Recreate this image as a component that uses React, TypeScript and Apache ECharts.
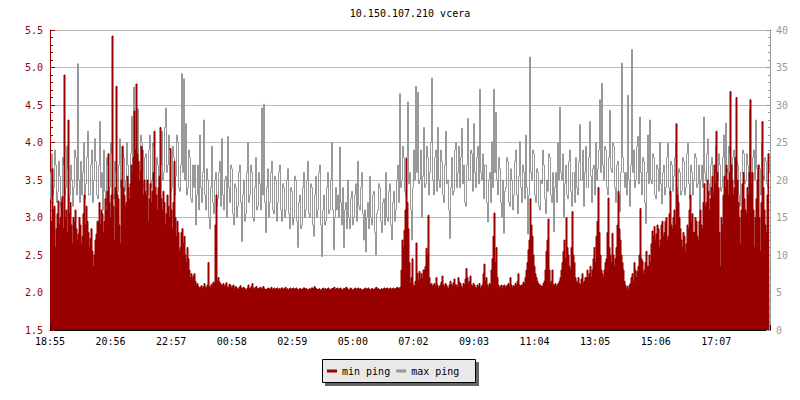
import React, { useEffect, useRef } from 'react';
import * as echarts from 'echarts';

const chartTitle = '10.150.107.210 vcera';
const tickLabels = ['18:55', '20:56', '22:57', '00:58', '02:59', '05:00', '07:02', '09:03', '11:04', '13:05', '15:06', '17:07'];
const legendNames = ['min ping', 'max ping'];
const minutesPerSample = 2;
const sampleOffsetMinutes = 1;
const minutesPerTick = 121.14;
const spanMinutes = 1440;

// min ping (left axis), one value every 2 minutes
const minPing = [
  2.72, 2.95, 3.65, 3.1, 3.15, 2.6, 2.85, 3.05, 3.22, 2.9, 3.0, 3.2, 3.28, 2.85, 4.9, 3.0, 3.1, 2.8, 4.3, 3.05, 3.2, 2.9, 2.65, 3.0,
  2.95, 3.1, 2.85, 2.7, 2.78, 3.0, 2.9, 2.65, 2.75, 3.05, 3.3, 2.9, 3.15, 2.95, 2.8, 2.6, 2.72, 2.85, 2.55, 2.35, 2.5, 2.7, 2.78, 2.95,
  2.95, 3.2, 2.9, 3.1, 3.05, 2.8, 2.95, 3.25, 3.1, 3.35, 3.85, 3.2, 3.0, 3.3, 5.42, 3.15, 2.7, 3.4, 4.75, 3.3, 3.25, 2.9, 2.65, 3.5,
  3.95, 3.4, 3.3, 3.15, 3.2, 3.55, 3.4, 3.25, 3.45, 3.7, 3.6, 3.8, 4.42, 3.9, 4.78, 3.85, 3.75, 3.5, 3.62, 3.95, 3.9, 3.3, 3.5, 3.35,
  3.3, 3.5, 2.95, 3.25, 3.45, 3.2, 3.35, 3.6, 4.15, 3.4, 3.3, 3.1, 3.4, 3.55, 4.2, 3.25, 3.1, 3.35, 3.2, 2.9, 3.05, 3.3, 3.15, 3.0,
  3.92, 3.1, 2.85, 3.2, 3.75, 3.0, 2.75, 2.95, 2.8, 2.55, 2.6, 2.8, 2.85, 2.65, 2.75, 2.5, 2.4, 2.6, 2.45, 2.3, 2.2, 2.25, 2.18, 2.22,
  2.25, 2.15, 2.1, 2.12, 2.08, 2.06, 2.07, 2.09, 2.05, 2.08, 2.12, 2.07, 2.06, 2.1, 2.4, 2.08, 2.07, 2.11, 2.1, 2.14, 2.12, 2.9, 3.3, 2.15,
  2.2, 2.14, 2.12, 2.09, 2.1, 2.12, 2.08, 2.1, 2.13, 2.07, 2.07, 2.11, 2.1, 2.06, 2.08, 2.1, 2.05, 2.08, 2.07, 2.05, 2.04, 2.07, 2.09, 2.06,
  2.05, 2.07, 2.06, 2.04, 2.03, 2.06, 2.1, 2.05, 2.06, 2.08, 2.12, 2.06, 2.04, 2.07, 2.08, 2.05, 2.05, 2.06, 2.07, 2.04, 2.06, 2.08, 2.05, 2.04,
  2.04, 2.05, 2.06, 2.04, 2.05, 2.07, 2.04, 2.05, 2.06, 2.04, 2.05, 2.06, 2.03, 2.05, 2.04, 2.06, 2.06, 2.04, 2.05, 2.07, 2.04, 2.05, 2.03, 2.05,
  2.06, 2.04, 2.05, 2.06, 2.04, 2.05, 2.06, 2.04, 2.03, 2.05, 2.05, 2.04, 2.04, 2.06, 2.06, 2.05, 2.05, 2.04, 2.03, 2.05, 2.04, 2.06, 2.06, 2.05,
  2.08, 2.06, 2.05, 2.04, 2.04, 2.05, 2.02, 2.04, 2.05, 2.06, 2.03, 2.05, 2.04, 2.05, 2.06, 2.04, 2.03, 2.05, 2.05, 2.06, 2.07, 2.04, 2.05, 2.06,
  2.04, 2.05, 2.06, 2.04, 2.03, 2.05, 2.05, 2.06, 2.07, 2.05, 2.04, 2.03, 2.06, 2.05, 2.03, 2.04, 2.05, 2.06, 2.04, 2.05, 2.06, 2.04, 2.05, 2.04,
  2.03, 2.04, 2.05, 2.06, 2.04, 2.05, 2.06, 2.04, 2.03, 2.05, 2.05, 2.04, 2.04, 2.06, 2.07, 2.05, 2.05, 2.04, 2.03, 2.05, 2.04, 2.05, 2.06, 2.05,
  2.05, 2.06, 2.04, 2.05, 2.06, 2.04, 2.05, 2.06, 2.04, 2.05, 2.06, 2.07, 2.05, 2.06, 2.07, 2.3, 2.7, 2.6, 2.83, 3.1, 3.79, 3.2, 2.85, 2.4,
  2.12, 2.2, 2.45, 2.1, 2.08, 2.15, 2.66, 2.25, 2.15, 2.28, 2.18, 2.25, 2.18, 2.3, 2.3, 2.35, 2.59, 2.5, 3.03, 2.2, 2.1, 2.12, 2.08, 2.1,
  2.12, 2.09, 2.2, 2.1, 2.06, 2.08, 2.1, 2.14, 2.22, 2.1, 2.08, 2.12, 2.1, 2.07, 2.05, 2.1, 2.15, 2.11, 2.08, 2.13, 2.18, 2.1, 2.1, 2.07,
  2.2, 2.14, 2.12, 2.08, 2.06, 2.12, 2.1, 2.18, 2.32, 2.2, 2.12, 2.15, 2.22, 2.1, 2.08, 2.12, 2.1, 2.07, 2.06, 2.1, 2.08, 2.12, 2.05, 2.08,
  2.1, 2.25, 2.38, 2.15, 2.2, 2.1, 2.07, 2.12, 2.1, 2.3, 2.45, 2.75, 3.06, 2.4, 2.6, 2.2, 2.1, 2.06, 2.08, 2.1, 2.05, 2.09, 2.1, 2.07,
  2.08, 2.1, 2.12, 2.08, 2.2, 2.1, 2.06, 2.09, 2.08, 2.12, 2.1, 2.15, 2.25, 2.1, 2.08, 2.1, 2.1, 2.14, 2.12, 2.2, 2.3, 2.4, 2.57, 2.7,
  3.25, 2.9, 2.75, 2.5, 2.35, 2.25, 2.2, 2.15, 2.12, 2.1, 2.1, 2.08, 2.08, 2.12, 2.15, 2.3, 2.55, 2.7, 2.98, 2.3, 2.12, 2.15, 2.3, 2.1,
  2.1, 2.12, 2.08, 2.1, 2.12, 2.15, 2.2, 2.3, 2.4, 2.55, 2.7, 2.45, 3.0, 2.6, 2.5, 2.35, 2.3, 2.6, 3.08, 2.5, 2.4, 2.2, 2.15, 2.12,
  2.2, 2.12, 2.1, 2.18, 2.25, 2.12, 2.15, 2.2, 2.2, 2.3, 2.2, 2.25, 2.35, 2.2, 2.3, 2.45, 2.6, 2.4, 2.75, 2.95, 3.4, 2.8, 2.5, 2.3,
  2.25, 2.2, 2.3, 2.4, 2.45, 2.8, 3.26, 2.6, 2.5, 2.4, 2.79, 2.5, 2.35, 2.45, 2.6, 2.9, 3.35, 2.85, 2.7, 2.5, 2.4, 2.3, 2.15, 2.1,
  2.05, 2.08, 2.03, 2.1, 2.12, 2.2, 2.25, 2.15, 2.4, 2.3, 2.2, 2.28, 2.35, 2.5, 3.12, 2.45, 2.42, 2.25, 2.3, 2.4, 2.55, 2.35, 2.35, 2.5,
  2.4, 2.65, 2.82, 2.75, 2.88, 2.7, 2.78, 2.9, 2.85, 2.6, 2.7, 2.9, 2.95, 2.75, 2.8, 2.95, 3.0, 2.7, 2.75, 3.05, 3.35, 2.9, 2.85, 3.0,
  3.1, 2.9, 4.25, 3.3, 3.2, 3.0, 2.85, 2.7, 2.6, 2.8, 2.75, 2.55, 2.65, 2.9, 2.85, 3.1, 3.3, 2.95, 3.05, 2.8, 2.8, 3.0, 2.95, 2.75,
  2.7, 2.95, 3.1, 2.9, 2.85, 3.2, 3.45, 3.15, 3.2, 3.5, 3.35, 3.1, 3.25, 3.4, 3.55, 3.3, 3.7, 3.45, 4.15, 3.6, 3.4, 2.8, 2.35, 3.0,
  2.9, 3.3, 3.55, 3.4, 3.7, 3.5, 3.3, 3.6, 4.68, 3.7, 3.5, 3.3, 3.4, 3.8, 4.6, 3.5, 3.2, 3.0, 2.65, 3.1, 3.45, 3.6, 3.25, 3.1,
  3.05, 3.4, 3.3, 3.6, 4.57, 3.45, 3.6, 3.1, 2.6, 3.0, 3.25, 3.5, 3.7, 3.0, 2.55, 3.2, 4.28, 3.4, 3.1, 2.9, 2.8, 3.3, 3.85, 3.6,
];

// max ping (right axis), one value every 2 minutes
const maxPing = [
  21, 17.5, 23.5, 18, 19, 24, 22, 17, 18.5, 22.5, 20.5, 16.5, 17.5, 23, 22, 18, 19, 24.5, 21.5, 17, 18, 22, 20, 16.5,
  19, 24, 23, 18, 35.5, 20, 17, 22.5, 18, 21, 25, 17.5, 19.5, 23, 26.5, 18, 18, 22, 24, 17, 20, 25.5, 22.5, 18,
  17.5, 22, 27.8, 19, 21, 16, 24, 18.5, 16.5, 23, 22, 17, 19, 25, 23.5, 18, 17.5, 22.5, 21, 16, 18.5, 22, 25.5, 19,
  19, 24.5, 23, 18.5, 20, 25, 22, 18, 18, 23.5, 28.5, 21, 32.4, 22, 24, 20, 29.5, 22.5, 21, 26, 25, 19, 19.5, 23,
  23.5, 18.5, 18, 24, 26, 19, 20, 25, 24.5, 18, 19, 23, 22, 16.5, 17.5, 22, 26.5, 20, 21, 27, 29.6, 21, 22, 26,
  24, 18.5, 19, 24.5, 23, 18, 20.5, 26, 25, 19, 18.5, 22, 34.2, 21, 33.5, 20, 27.5, 18, 19, 24, 23, 17.5, 17, 22,
  19, 22, 14, 18, 22, 16, 26, 19, 17, 21, 28, 18, 16, 21.5, 20, 15, 13.5, 19, 24.5, 17, 15.5, 20, 21, 16.5,
  17.5, 21, 22.5, 16.5, 25.5, 18, 16, 20, 20.5, 15, 25.8, 19, 17, 22, 21.5, 15.5, 14, 19.5, 19, 15, 16.5, 21, 22, 17,
  11.8, 18, 20, 14.5, 15.5, 21, 25, 17, 18, 22, 21, 15, 14.5, 19, 23, 16, 16.5, 21, 19.5, 16, 29.6, 18, 30.1, 17,
  13, 19, 21.5, 15, 17, 21, 22.5, 16, 15.5, 20.5, 20, 14.5, 17, 21, 22, 16, 14.5, 19.5, 19, 15, 16, 20, 21.5, 15.5,
  13.5, 19, 18.5, 14, 15, 20.5, 20, 14.5, 11, 17, 18, 13.5, 14, 19, 21, 15, 16, 20, 22.5, 15.5, 15, 19.5, 19, 14,
  12.5, 18, 20.5, 15, 16, 21, 22, 14, 9.8, 16, 18, 14, 14.5, 19, 21, 15.5, 16, 20, 25, 16, 10.7, 15, 19, 16,
  18, 15, 24.4, 17, 14, 19, 11, 16, 17, 13.5, 20, 15, 13.5, 17.5, 18.5, 14, 15, 18, 19.5, 14.5, 22.5, 16.5, 16, 19,
  21, 15.5, 12, 16, 10.4, 15, 17, 13.5, 20.5, 15, 14, 18, 18.5, 13, 10, 15.5, 16, 19.5, 19, 14.5, 13, 17, 17.5, 14,
  21, 15, 14.5, 18.5, 19.5, 14, 12, 17, 18.5, 14.5, 16, 20, 22, 17, 31.5, 19, 20, 24.5, 23, 18.5, 18, 23, 30.4, 19.5,
  21, 16, 12, 19, 24, 20, 32.5, 21, 31.7, 19.5, 20, 24, 15, 20.5, 27, 19, 19.5, 24.5, 23, 18, 21, 25, 33.6, 20,
  18, 23, 24, 18.5, 27, 20, 19, 24, 22.5, 18, 17, 22, 26.5, 19.5, 20, 16, 12.2, 19, 23, 18, 18.5, 24, 25, 19,
  21, 24.5, 19, 23, 26.9, 19.5, 22, 17, 16.5, 22, 28.2, 20, 20, 24, 23.5, 18.5, 27.5, 21, 19, 23, 24.5, 19.5, 32.1, 21,
  20, 23.5, 17.5, 22, 22, 17, 14.4, 20, 21, 17, 25.1, 19, 32.1, 21, 29, 20, 18, 23, 21.5, 17, 15, 20, 12.9, 18.5,
  19, 23, 22.5, 17, 16.5, 21.5, 20, 16, 18, 22.5, 24, 18, 15.5, 20.5, 25.1, 19, 17, 22, 21, 17.5, 26, 19, 12.8, 18,
  36.4, 21, 20, 24, 23.5, 18, 17, 21.5, 21, 16.5, 16, 20, 19.5, 24, 22, 17.5, 15.5, 20, 18.5, 23.5, 23, 18, 17, 21,
  13.1, 19, 21, 17, 25, 20, 29.7, 21, 20, 23.5, 15, 19.5, 22, 18, 17.5, 22.5, 24, 18.5, 16.5, 21, 21, 17, 23, 19,
  18, 22.5, 27.4, 20, 20, 24, 16.5, 21, 24.5, 19, 19, 23, 27.8, 20.5, 17, 21.5, 22, 18, 25, 20, 21.5, 24, 30.7, 21,
  32.9, 22, 20, 24.5, 24, 19, 18, 23, 29.3, 21.5, 21, 25, 24.5, 19, 17, 22, 22.5, 18, 15.8, 21, 35.6, 23, 21, 19,
  21, 18, 31.3, 20, 16.5, 22, 37.4, 21, 24, 19, 20, 24.5, 25.8, 19.5, 28.4, 21, 18, 23, 22.5, 17, 14.2, 21, 26, 19.5,
  28, 20, 19.5, 23.5, 23, 18, 17.5, 22, 21.5, 18.5, 25, 19.5, 16.8, 21, 22, 18, 19, 23, 24.9, 19, 18, 22.5, 22, 18.5,
  20.5, 23, 24.9, 19, 16, 21.5, 21, 18, 18.5, 23, 22.5, 18, 19, 23.5, 24.9, 19.5, 17.5, 22, 21, 18, 20, 23.5, 23, 19,
  19.5, 22, 14.2, 20, 22, 19, 28.4, 21, 20, 23.5, 25.5, 19.5, 18, 22, 23, 18.5, 15.5, 21, 24.5, 19, 20, 23.5, 22, 18.5,
  19, 23, 26, 20, 27.6, 21.5, 21, 24.5, 23.5, 19, 19, 23, 24, 19.5, 18, 22.5, 22, 18, 16.5, 21, 21, 24, 23.5, 19.5,
  20, 23.5, 22, 19, 29.4, 21, 19.5, 23, 24, 20, 28, 21.5, 18.5, 22, 21.5, 18, 25, 20.5, 20, 23, 22.5, 19.5, 19, 22,
];

const FONT = '"DejaVu Sans Mono", "Liberation Mono", monospace';
const RED = '#990000';
const GRAY = '#999999';
const GRID = '#bbbbbb';

export default function App() {
  const ref = useRef<HTMLDivElement>(null);
  useEffect(() => {
    if (!ref.current) return;
    const chart = echarts.init(ref.current, null, { renderer: 'svg' });
    const minData = minPing.map((v, i) => [i * minutesPerSample + sampleOffsetMinutes, v]);
    const maxData = maxPing.map((v, i) => [i * minutesPerSample + sampleOffsetMinutes, v]);
    chart.setOption({
      animation: false,
      grid: { left: 50, right: 30, top: 30, bottom: 70, containLabel: false },
      graphic: [
        {
          type: 'text',
          x: 410,
          y: 13,
          z: 10,
          style: {
            text: chartTitle,
            font: '10px ' + FONT,
            fill: '#000',
            align: 'center',
            verticalAlign: 'middle',
            textAlign: 'center',
            textVerticalAlign: 'middle',
          },
        },
        { type: 'rect', z: 1, shape: { x: 325, y: 362, width: 154, height: 24 }, style: { fill: '#666666' } },
        {
          type: 'rect',
          z: 2,
          shape: { x: 322.5, y: 359.5, width: 153, height: 23 },
          style: { fill: '#e9e9e9', stroke: '#000', lineWidth: 1 },
        },
      ],
      legend: {
        left: 327,
        top: 366,
        padding: 0,
        itemWidth: 10,
        itemHeight: 3,
        itemGap: 6,
        icon: 'rect',
        z: 10,
        textStyle: { fontFamily: FONT, fontSize: 10, color: '#000' },
        data: [
          { name: legendNames[0], itemStyle: { color: RED } },
          { name: legendNames[1], itemStyle: { color: GRAY } },
        ],
      },
      xAxis: {
        type: 'value',
        min: 0,
        max: spanMinutes,
        interval: minutesPerTick,
        axisLine: { show: true, lineStyle: { color: '#000', width: 1 } },
        axisTick: { show: true, inside: true, length: 5, lineStyle: { color: '#000' } },
        axisLabel: {
          margin: 6,
          fontFamily: FONT,
          fontSize: 10,
          color: '#000',
          formatter: (v: number) => {
            const idx = Math.round(v / minutesPerTick);
            if (Math.abs(v - idx * minutesPerTick) > 1) return '';
            return tickLabels[idx] ?? '';
          },
        },
        splitLine: { show: false },
      },
      yAxis: [
        {
          type: 'value',
          position: 'left',
          min: 1.5,
          max: 5.5,
          interval: 0.5,
          axisLine: { show: true, lineStyle: { color: RED } },
          axisTick: { show: true, inside: true, length: 5, lineStyle: { color: RED } },
          minorTick: { show: true, splitNumber: 5, length: 3, lineStyle: { color: RED } },
          axisLabel: {
            color: RED,
            fontFamily: FONT,
            fontSize: 10,
            margin: 7,
            formatter: (v: number) => v.toFixed(1),
          },
          splitLine: { show: true, lineStyle: { color: GRID, width: 1 } },
        },
        {
          type: 'value',
          position: 'right',
          min: 0,
          max: 40,
          interval: 5,
          axisLine: { show: true, lineStyle: { color: GRAY } },
          axisTick: { show: true, inside: true, length: 4, lineStyle: { color: GRAY } },
          minorTick: { show: true, splitNumber: 5, length: 2, lineStyle: { color: GRAY } },
          axisLabel: { color: GRAY, fontFamily: FONT, fontSize: 10, margin: 6 },
          splitLine: { show: false },
        },
      ],
      series: [
        {
          name: legendNames[1],
          type: 'line',
          yAxisIndex: 1,
          data: maxData,
          step: 'start',
          symbol: 'none',
          showSymbol: false,
          lineStyle: { color: GRAY, width: 1 },
          itemStyle: { color: GRAY },
          z: 2,
        },
        {
          name: legendNames[0],
          type: 'line',
          yAxisIndex: 0,
          data: minData,
          step: 'middle',
          symbol: 'none',
          showSymbol: false,
          lineStyle: { color: RED, width: 1 },
          itemStyle: { color: RED },
          areaStyle: { color: RED, opacity: 1, origin: 'start' },
          z: 3,
        },
      ],
    });
    return () => chart.dispose();
  }, []);
  return <div ref={ref} style={{ position: 'absolute', left: 0, top: 0, width: 800, height: 400 }} />;
}
